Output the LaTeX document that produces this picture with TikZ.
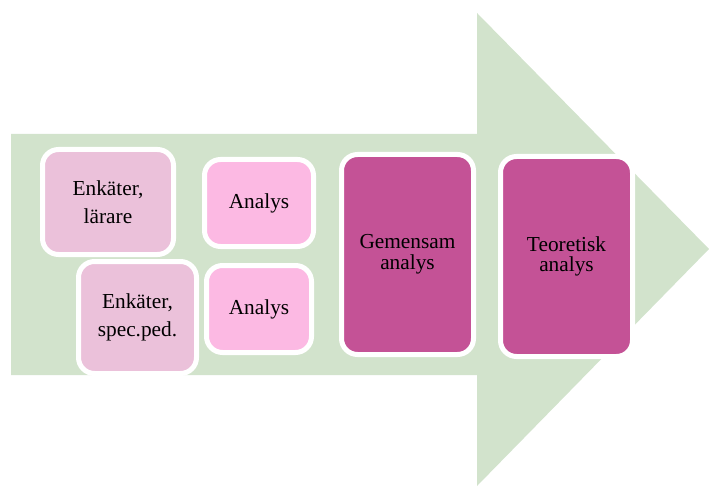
\documentclass[tikz,border=0pt]{standalone}
\usepackage{fontspec}
\setmainfont{LiberationSerif}[Extension=.ttf, UprightFont=*-Regular]
\usepackage{tikz}
\usetikzlibrary{positioning}
\definecolor{arrowgreen}{RGB}{210,227,204}
\definecolor{survpink}{RGB}{235,193,218}
\definecolor{anapink}{RGB}{252,185,227}
\definecolor{deeppink}{RGB}{196,82,150}
\tikzset{
  stage/.style = {rectangle, rounded corners=12pt, draw=white,
    line width=3.75pt, align=center, inner sep=2pt,
    font=\rmfamily\fontsize{16}{21}\selectfont},
  stage_s/.style = {stage, fill=survpink},% enkaet
  stage_a/.style = {stage, fill=anapink},% analys
  stage_b/.style = {stage, fill=deeppink,
    font=\rmfamily\fontsize{16}{15.5}\selectfont,
    minimum width=99pt, minimum height=150pt}% stora steg
}
\begin{document}
\begin{tikzpicture}[x=0.75pt,y=-0.75pt]
\useasboundingbox (0,0) rectangle (709,488);
\clip (0,0) rectangle (709,488);
% pilen i bakgrunden
\fill [arrowgreen] (11,134) -- (477,134) -- (477,13) -- (709,249)
  -- (477,486) -- (477,375) -- (11,375) -- cycle;
% enkaeter och analyser
\node [stage_s, minimum width=98.25pt, minimum height=78.75pt]
  (enkl) at (108,202) {Enkäter,\\lärare};
\node [stage_a, minimum width=81.75pt, minimum height=65.25pt]
  (anal) at (259,203) {Analys};
\node [stage_s, minimum width=88.5pt, minimum height=84pt]
  (enks) at (137.5,317.5) {Enkäter,\\spec.ped.};
\node [stage_a, minimum width=78.75pt, minimum height=65.25pt]
  (anas) at (259,309) {Analys};
% gemensam och teoretisk
\node [stage_b] (gem) at (407.5,254.5) {Gemensam\\analys};
\node [stage_b] (teo) at (566.5,256.5) {Teoretisk\\analys};
\end{tikzpicture}
\end{document}
